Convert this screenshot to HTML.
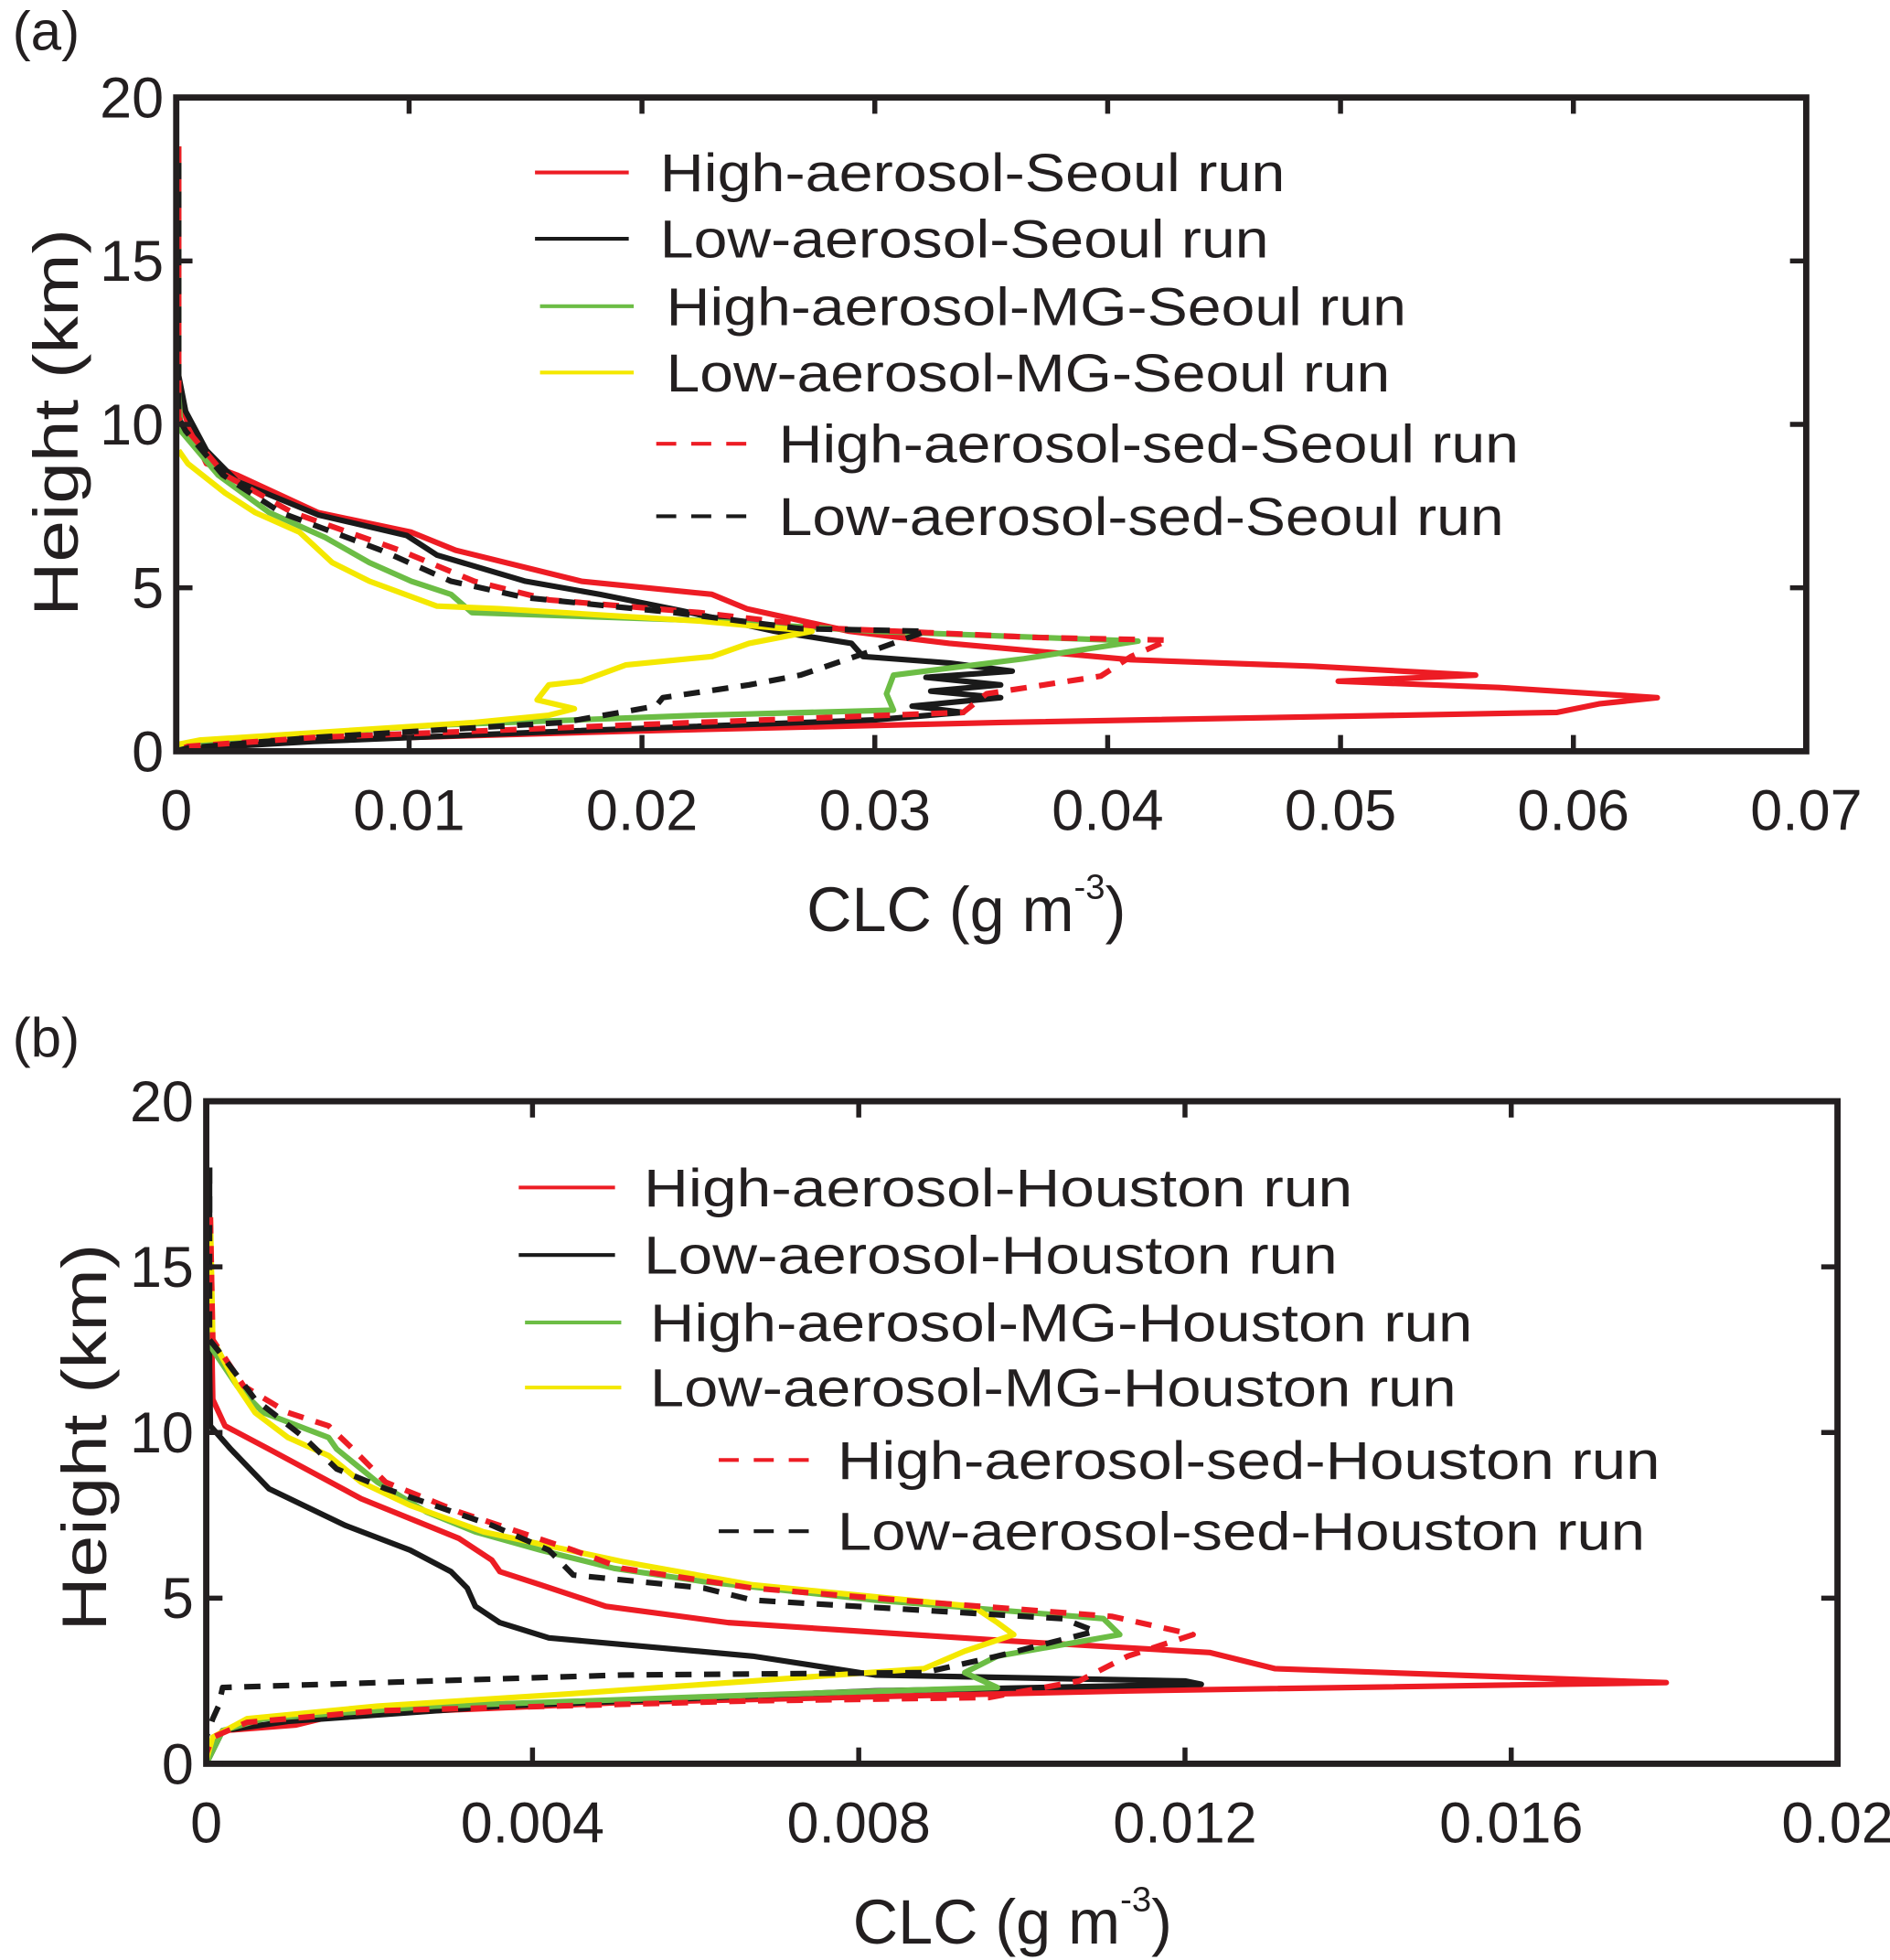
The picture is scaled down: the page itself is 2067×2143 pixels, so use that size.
<!DOCTYPE html>
<html><head><meta charset="utf-8"><style>
html,body{margin:0;padding:0;background:#fff;}
svg{display:block;}
text{font-family:"Liberation Sans",sans-serif;fill:#231f20;}
</style></head><body>
<svg id="fig" xmlns="http://www.w3.org/2000/svg" width="2067" height="2143" viewBox="0 0 1512 1568" preserveAspectRatio="none"></svg>
<script>
// ---------- Panel (a) data: Seoul (x = CLC g m^-3, h = km) ----------
const aHighX = [0.0001,0.0001,0.0005,0.0013,0.0026,0.0061,0.0101,0.012,0.0174,0.023,0.0245,0.0289,0.0332,0.041,0.0488,0.0558,0.0499,0.0568,0.0636,0.0611,0.0593,0.0354,0.0193,0.0059,0.0005,0];
const aHighH = [18.5,11,10,8.8,8.45,7.3,6.7,6.15,5.2,4.8,4.36,3.67,3.3,2.8,2.6,2.33,2.14,1.95,1.64,1.45,1.19,0.88,0.61,0.34,0.15,0];
const aLowX = [0.0001,0.0001,0.0004,0.0013,0.0026,0.0061,0.0099,0.0112,0.015,0.0182,0.0217,0.0257,0.029,0.0295,0.0332,0.0359,0.0322,0.0354,0.0324,0.0354,0.0316,0.0338,0.030,0.0166,0.0059,0.001,0];
const aLowH = [18,11.5,10.4,9.2,8.26,7.23,6.6,6.0,5.2,4.8,4.3,3.67,3.3,2.9,2.7,2.45,2.26,2.03,1.84,1.64,1.38,1.19,0.96,0.61,0.3,0.1,0];
const aHighMGX = [0.0001,0.0001,0.0002,0.0018,0.004,0.0064,0.0083,0.0101,0.0118,0.0127,0.0225,0.030,0.0413,0.0364,0.0308,0.0305,0.0308,0.0225,0.0112,0.0032,0.0002,0];
const aHighMGH = [18.5,11,9.8,8.45,7.3,6.54,5.77,5.2,4.8,4.24,4.0,3.67,3.37,2.83,2.33,1.76,1.26,1.1,0.8,0.42,0.19,0];
const aLowMGX = [0.0001,0.0005,0.0021,0.0034,0.0053,0.0067,0.0083,0.0112,0.0139,0.0225,0.0273,0.0246,0.023,0.0193,0.0174,0.016,0.0155,0.0171,0.016,0.0128,0.0069,0.001,0];
const aLowMGH = [9.2,8.8,7.9,7.3,6.7,5.77,5.2,4.44,4.36,3.98,3.67,3.3,2.9,2.64,2.14,2.03,1.57,1.3,1.1,0.88,0.61,0.34,0.2];
const aHighSedX = [0.0001,0.0001,0.0005,0.0021,0.005,0.0096,0.0128,0.016,0.0225,0.0284,0.037,0.0426,0.041,0.0397,0.0348,0.0338,0.0193,0.0059,0.0005,0];
const aHighSedH = [18.5,10.2,9.8,8.45,7.3,6.15,5.2,4.63,4.24,3.75,3.48,3.4,2.9,2.3,1.76,1.19,0.8,0.42,0.15,0];
const aLowSedX = [0.0001,0.0001,0.0004,0.002,0.0045,0.0088,0.0118,0.015,0.0214,0.0268,0.0322,0.030,0.0268,0.0246,0.0209,0.0206,0.0166,0.0059,0.0005,0];
const aLowSedH = [18,10.2,9.8,8.45,7.3,6.15,5.2,4.7,4.24,3.75,3.67,3.1,2.33,2.03,1.64,1.38,0.88,0.42,0.1,0];
// ---------- Panel (b) data: Houston ----------
const bHighX = [0.00005,0.00008,0.00023,0.00077,0.0019,0.0031,0.0035,0.0036,0.0041,0.0049,0.0064,0.0099,0.0123,0.0131,0.0179,0.0113,0.0051,0.0016,0.0011,0.0002,0.00008,0];
const bHighH = [15,11,10.2,9.5,8,6.8,6.15,5.8,5.4,4.75,4.26,3.7,3.36,2.87,2.45,2.2,1.85,1.47,1.17,1.0,0.6,0];
const bLowX = [0.00004,0.00004,0.00005,0.0003,0.00077,0.0017,0.0025,0.003,0.0032,0.0033,0.0036,0.0042,0.0067,0.0082,0.012,0.0122,0.0082,0.0036,0.001,0.0002,0];
const bLowH = [18,12,10.2,9.5,8.3,7.2,6.45,5.8,5.3,4.75,4.26,3.8,3.25,2.68,2.5,2.4,2.2,1.74,1.28,1.0,0];
const bHighMGX = [0.00005,0.00008,0.00038,0.0007,0.0015,0.0016,0.0021,0.0027,0.0033,0.0041,0.005,0.0061,0.0082,0.011,0.0112,0.0097,0.0093,0.0097,0.0067,0.0028,0.0007,0.0002,0];
const bHighMGH = [16,12.5,11.4,10.6,9.85,9.5,8.5,7.6,7.0,6.45,5.9,5.5,4.94,4.38,3.9,3.25,2.75,2.3,2.07,1.74,1.36,1.0,0];
const bLowMGX = [0.00005,0.00008,0.00038,0.0006,0.001,0.0015,0.0019,0.0025,0.0034,0.0051,0.0067,0.0094,0.0097,0.0099,0.0093,0.0088,0.0067,0.0044,0.0021,0.0005,0.00008,0];
const bLowMGH = [16.5,12.8,11.4,10.6,9.85,9.3,8.5,7.8,7.0,6.1,5.4,4.75,4.26,3.9,3.4,2.87,2.5,2.1,1.74,1.36,0.8,0.1];
const bHighSedX = [0.00005,0.00008,0.00046,0.001,0.0015,0.0018,0.0022,0.0031,0.0045,0.0051,0.0067,0.0085,0.0111,0.0121,0.0113,0.0107,0.0096,0.0067,0.0021,0.0005,0.00008,0];
const bHighSedH = [16.5,12.8,11.4,10.6,10.2,9.5,8.5,7.6,6.45,5.9,5.3,4.94,4.45,3.9,3.25,2.5,2.0,1.9,1.6,1.25,0.8,0.3];
const bLowSedX = [0.00004,0.00004,0.00014,0.0006,0.0012,0.0016,0.0022,0.0035,0.0042,0.0045,0.0061,0.0067,0.0105,0.0109,0.0097,0.0088,0.0051,0.0002,0.00015,0.00008,0];
const bLowSedH = [18,12.8,12.5,11,9.85,8.9,8.3,7.2,6.45,5.7,5.3,4.94,4.38,4.0,3.25,2.75,2.68,2.3,1.74,1.36,0.8];
// ---------- Axes / labels ----------
const aXTicks = [0,0.01,0.02,0.03,0.04,0.05,0.06,0.07];
const aXTickLabels = ["0","0.01","0.02","0.03","0.04","0.05","0.06","0.07"];
const bXTicks = [0,0.004,0.008,0.012,0.016,0.02];
const bXTickLabels = ["0","0.004","0.008","0.012","0.016","0.02"];
const yTicks = [0,5,10,15,20];
const yTickLabels = ["0","5","10","15","20"];
const aNames = ["High-aerosol-Seoul run","Low-aerosol-Seoul run","High-aerosol-MG-Seoul run","Low-aerosol-MG-Seoul run","High-aerosol-sed-Seoul run","Low-aerosol-sed-Seoul run"];
const bNames = ["High-aerosol-Houston run","Low-aerosol-Houston run","High-aerosol-MG-Houston run","Low-aerosol-MG-Houston run","High-aerosol-sed-Houston run","Low-aerosol-sed-Houston run"];

const NS="http://www.w3.org/2000/svg";
const svg=document.getElementById('fig');
function mk(tag,attrs,parent){const e=document.createElementNS(NS,tag);for(const k in attrs)e.setAttribute(k,attrs[k]);(parent||svg).appendChild(e);return e;}

const RED="#ed1c24",BLK="#1a1a1a",GRN="#6cbd45",YEL="#f4e800";
const styles=[{c:RED,d:null},{c:BLK,d:null},{c:GRN,d:null},{c:YEL,d:null},{c:RED,d:"13,10"},{c:BLK,d:"13,10"}];

function panel(cfg){
  const g=mk('g',{});
  
  
  const L=cfg.L,R=cfg.R,T=cfg.T,B=cfg.B;
  const sx=v=>L+v/cfg.xmax*(R-L);
  const sy=v=>B-v/20*(B-T);
  cfg.series.forEach((s,i)=>{
    const pts=s.x.map((v,j)=>sx(v).toFixed(1)+','+sy(s.h[j]).toFixed(1)).join(' ');
    const p=mk('polyline',{points:pts,fill:'none',stroke:styles[i].c,'stroke-width':4.5,'stroke-linejoin':'round'},g);
    if(styles[i].d)p.setAttribute('stroke-dasharray',styles[i].d);
    
    
  });
  const fr=mk('rect',{x:L,y:T,width:R-L,height:B-T,fill:'none',stroke:'#231f20','stroke-width':5},g);
  
  
  cfg.xt.forEach((v,i)=>{
    const x=sx(v);
    mk('line',{x1:x,y1:B,x2:x,y2:B-13,stroke:'#231f20','stroke-width':4},g);
    mk('line',{x1:x,y1:T,x2:x,y2:T+13,stroke:'#231f20','stroke-width':4},g);
    const t=mk('text',{x:x,y:cfg.xLabY,'font-size':46,'text-anchor':'middle'},g);
    t.textContent=cfg.xl[i];
    
    
  });
  yTicks.forEach((v,i)=>{
    const y=sy(v);
    mk('line',{x1:L,y1:y,x2:L+13,y2:y,stroke:'#231f20','stroke-width':4},g);
    mk('line',{x1:R,y1:y,x2:R-13,y2:y,stroke:'#231f20','stroke-width':4},g);
    const t=mk('text',{x:L-10,y:y+16,'font-size':46,'text-anchor':'end'},g);
    t.textContent=yTickLabels[i];
    
    
  });
  cfg.leg.forEach((e,i)=>{
    const ln=mk('line',{x1:e.x1,y1:e.y,x2:e.x2,y2:e.y,stroke:styles[i].c,'stroke-width':3},g);
    if(styles[i].d)ln.setAttribute('stroke-dasharray','16,12');
    
    
    const t=mk('text',{x:e.tx,y:e.y+15,'font-size':43,textLength:e.w,lengthAdjust:'spacingAndGlyphs'},g);
    t.textContent=cfg.names[i];
    
    
  });
  const xt=mk('text',{x:cfg.xtx,y:cfg.xty,'font-size':50,'text-anchor':'middle'},g);
  xt.innerHTML='CLC (g m<tspan font-size="28" dy="-26">-3</tspan><tspan dy="26">)</tspan>';
  
  
  const yt=mk('text',{x:0,y:0,'font-size':50,'text-anchor':'middle',transform:`translate(${cfg.ytx},${cfg.yty}) rotate(-90)`,textLength:310,lengthAdjust:'spacingAndGlyphs'},g);
  yt.textContent='Height (km)';
  
  
  const pl=mk('text',{x:10,y:cfg.ply,'font-size':44},g);
  pl.textContent=cfg.plabel;
  
  
}

panel({id:'seoul',L:141,R:1445,T:78,B:601,xmax:0.07,xt:aXTicks,xl:aXTickLabels,xLabY:664,
  series:[{x:aHighX,h:aHighH},{x:aLowX,h:aLowH},{x:aHighMGX,h:aHighMGH},{x:aLowMGX,h:aLowMGH},{x:aHighSedX,h:aHighSedH},{x:aLowSedX,h:aLowSedH}],
  names:aNames,
  leg:[{x1:428,x2:503,y:138,tx:528,w:500},{x1:428,x2:503,y:191,tx:528,w:487},{x1:432,x2:507,y:245,tx:533,w:592},{x1:432,x2:507,y:298,tx:533,w:579},{x1:525,x2:605,y:355,tx:623,w:592},{x1:525,x2:605,y:413,tx:623,w:580}],
  xtx:773,xty:745,ytx:62,yty:338,ply:40,plabel:'(a)'});
panel({id:'houston',L:165,R:1470,T:881,B:1411,xmax:0.02,xt:bXTicks,xl:bXTickLabels,xLabY:1474,
  series:[{x:bHighX,h:bHighH},{x:bLowX,h:bLowH},{x:bHighMGX,h:bHighMGH},{x:bLowMGX,h:bLowMGH},{x:bHighSedX,h:bHighSedH},{x:bLowSedX,h:bLowSedH}],
  names:bNames,
  leg:[{x1:415,x2:492,y:950,tx:515,w:567},{x1:415,x2:492,y:1004,tx:515,w:555},{x1:420,x2:497,y:1058,tx:520,w:658},{x1:420,x2:497,y:1110,tx:520,w:645},{x1:575,x2:655,y:1168,tx:670,w:658},{x1:575,x2:655,y:1225,tx:670,w:646}],
  xtx:810,xty:1555,ytx:85,yty:1150,ply:845,plabel:'(b)'});
</script>
</body></html>
